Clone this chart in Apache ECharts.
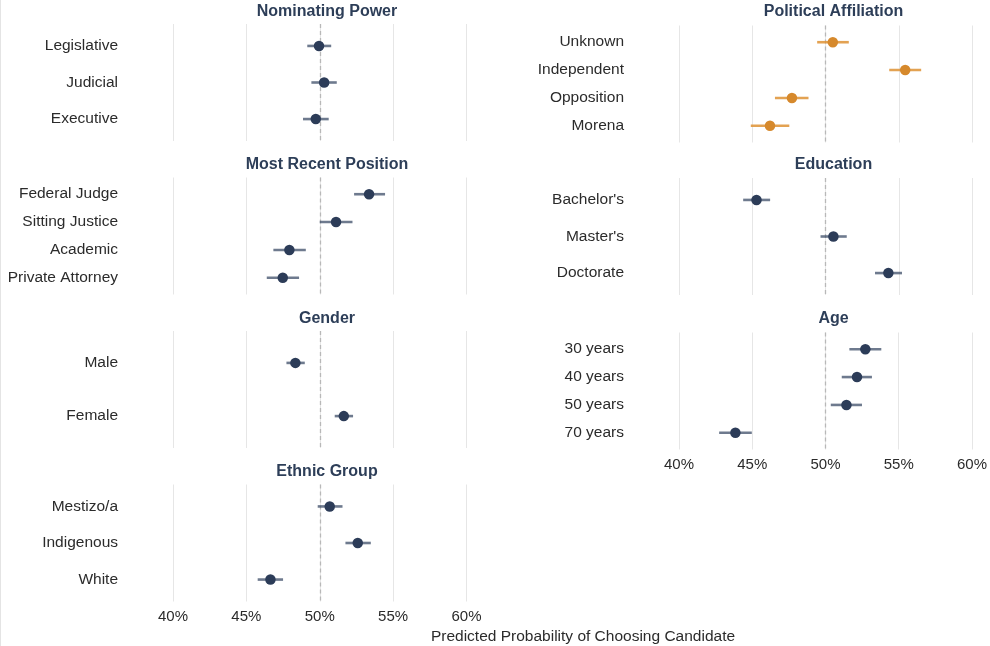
<!DOCTYPE html>
<html>
<head>
<meta charset="utf-8">
<script src="https://cdn.jsdelivr.net/npm/echarts@6/dist/echarts.min.js"></script>
<style>
html,body{margin:0;padding:0;background:#fff;}
#chart{width:990px;height:646px;}
</style>
</head>
<body>
<div id="chart"></div>
<script>
// ---- Data ----
const xTicks = [40, 45, 50, 55, 60];

const nominatingCats = ['Legislative', 'Judicial', 'Executive'];
const nominatingEst  = [49.95, 50.30, 49.73];
const nominatingLo   = [49.15, 49.43, 48.86];
const nominatingHi   = [50.78, 51.16, 50.61];

const positionCats = ['Federal Judge', 'Sitting Justice', 'Academic', 'Private Attorney'];
const positionEst  = [53.36, 51.11, 47.93, 47.48];
const positionLo   = [52.34, 50.00, 46.84, 46.39];
const positionHi   = [54.45, 52.23, 49.05, 48.59];

const genderCats = ['Male', 'Female'];
const genderEst  = [48.34, 51.64];
const genderLo   = [47.73, 51.02];
const genderHi   = [48.98, 52.27];

const ethnicCats = ['Mestizo/a', 'Indigenous', 'White'];
const ethnicEst  = [50.68, 52.59, 46.64];
const ethnicLo   = [49.86, 51.75, 45.77];
const ethnicHi   = [51.55, 53.48, 47.50];

const partyCats = ['Unknown', 'Independent', 'Opposition', 'Morena'];
const partyEst  = [50.50, 55.44, 47.71, 46.21];
const partyLo   = [49.43, 54.35, 46.55, 44.90];
const partyHi   = [51.59, 56.53, 48.84, 47.53];

const educationCats = ["Bachelor's", "Master's", 'Doctorate'];
const educationEst  = [45.29, 50.54, 54.29];
const educationLo   = [44.38, 49.66, 53.38];
const educationHi   = [46.22, 51.45, 55.22];

const ageCats = ['30 years', '40 years', '50 years', '70 years'];
const ageEst  = [52.72, 52.15, 51.43, 43.85];
const ageLo   = [51.63, 51.11, 50.36, 42.74];
const ageHi   = [53.81, 53.17, 52.49, 44.97];

const panelTitles = ['Nominating Power', 'Most Recent Position', 'Gender', 'Ethnic Group',
                     'Political Affiliation', 'Education', 'Age'];
const axisTitle = 'Predicted Probability of Choosing Candidate';

// ---- Layout / style ----
const NAVY = '#2c3c58';
const NAVY_BAR = 'rgba(62,78,104,0.75)';
const ORANGE = '#d6892c';
const ORANGE_BAR = 'rgba(222,146,52,0.85)';
const TXT = '#2b2b2b';
const FONT = '"Liberation Sans", Arial, sans-serif';

const colLeft = [173, 679];
const colWidth = [293.5, 293];
const titleX = [327, 833.5];
const titleY = [11.5, 165, 318.5, 471.5];
const panelH = 117;

const panels = [
  {title: panelTitles[0], cats: nominatingCats, est: nominatingEst, lo: nominatingLo, hi: nominatingHi, col: 0, row: 0, top: 24, c: NAVY, cb: NAVY_BAR, xlab: false},
  {title: panelTitles[1], cats: positionCats, est: positionEst, lo: positionLo, hi: positionHi, col: 0, row: 1, top: 177.5, c: NAVY, cb: NAVY_BAR, xlab: false},
  {title: panelTitles[2], cats: genderCats, est: genderEst, lo: genderLo, hi: genderHi, col: 0, row: 2, top: 331, c: NAVY, cb: NAVY_BAR, xlab: false},
  {title: panelTitles[3], cats: ethnicCats, est: ethnicEst, lo: ethnicLo, hi: ethnicHi, col: 0, row: 3, top: 484.5, c: NAVY, cb: NAVY_BAR, xlab: true},
  {title: panelTitles[4], cats: partyCats, est: partyEst, lo: partyLo, hi: partyHi, col: 1, row: 0, top: 25.5, c: ORANGE, cb: ORANGE_BAR, xlab: false},
  {title: panelTitles[5], cats: educationCats, est: educationEst, lo: educationLo, hi: educationHi, col: 1, row: 1, top: 178, c: NAVY, cb: NAVY_BAR, xlab: false},
  {title: panelTitles[6], cats: ageCats, est: ageEst, lo: ageLo, hi: ageHi, col: 1, row: 2, top: 332.5, c: NAVY, cb: NAVY_BAR, xlab: true}
];

const grid = [], xAxis = [], yAxis = [], series = [], graphics = [];

panels.forEach((p, i) => {
  grid.push({left: colLeft[p.col], width: colWidth[p.col], top: p.top, height: panelH, containLabel: false});
  xAxis.push({
    type: 'value', gridIndex: i, min: xTicks[0], max: xTicks[xTicks.length - 1], interval: 5,
    axisLine: {show: false}, axisTick: {show: false},
    axisLabel: {show: p.xlab, color: TXT, fontSize: 15, fontFamily: FONT, margin: 8,
                formatter: v => v + '%'},
    splitLine: {show: true, lineStyle: {color: '#e6e6e6', width: 1}}
  });
  const n = p.cats.length;
  const idx = p.cats.map((_, k) => k);
  yAxis.push({
    type: 'value', gridIndex: i, inverse: true, min: -0.6, max: n - 1 + 0.6,
    axisLine: {show: false}, axisTick: {show: false}, splitLine: {show: false},
    axisLabel: {show: true, customValues: idx, color: TXT, fontSize: 15.5, fontFamily: FONT, margin: 55,
                formatter: v => p.cats[Math.round(v)] || ''}
  });
  // reference line at 50%
  series.push({
    type: 'line', xAxisIndex: i, yAxisIndex: i, z: 1, silent: true, data: [],
    markLine: {
      silent: true, z: 1, symbol: ['none', 'none'], label: {show: false},
      lineStyle: {color: '#b8b8b8', type: [4, 3], width: 1.3},
      data: [{xAxis: 50}]
    }
  });
  series.push({
    type: 'custom', xAxisIndex: i, yAxisIndex: i, z: 4, silent: true,
    encode: {x: [0, 1], y: 2},
    data: idx.map(k => [p.lo[k], p.hi[k], k]),
    renderItem: (params, api) => {
      const a = api.coord([api.value(0), api.value(2)]);
      const b = api.coord([api.value(1), api.value(2)]);
      return {type: 'line', shape: {x1: a[0], y1: a[1], x2: b[0], y2: b[1]},
              style: {stroke: p.cb, lineWidth: 2.6}};
    }
  });
  series.push({
    type: 'scatter', xAxisIndex: i, yAxisIndex: i, z: 6, silent: true,
    symbol: 'circle', symbolSize: 10.5,
    itemStyle: {color: p.c, opacity: 1},
    data: idx.map(k => [p.est[k], k])
  });
  graphics.push({
    type: 'text', x: titleX[p.col], y: titleY[p.row],
    style: {text: p.title, fill: '#2d3e58', font: 'bold 16px ' + FONT,
            textAlign: 'center', textVerticalAlign: 'middle'}
  });
});

graphics.push({
  type: 'text', x: 583, y: 637,
  style: {text: axisTitle, fill: TXT, font: '15.5px ' + FONT, textAlign: 'center', textVerticalAlign: 'middle'}
});
graphics.push({
  type: 'line', shape: {x1: 0.5, y1: 0, x2: 0.5, y2: 646},
  style: {stroke: '#e4e4e4', lineWidth: 1}
});

const chart = echarts.init(document.getElementById('chart'), null, {renderer: 'canvas'});
chart.setOption({
  animation: false,
  backgroundColor: '#ffffff',
  grid, xAxis, yAxis, series, graphic: graphics
});
</script>
</body>
</html>
